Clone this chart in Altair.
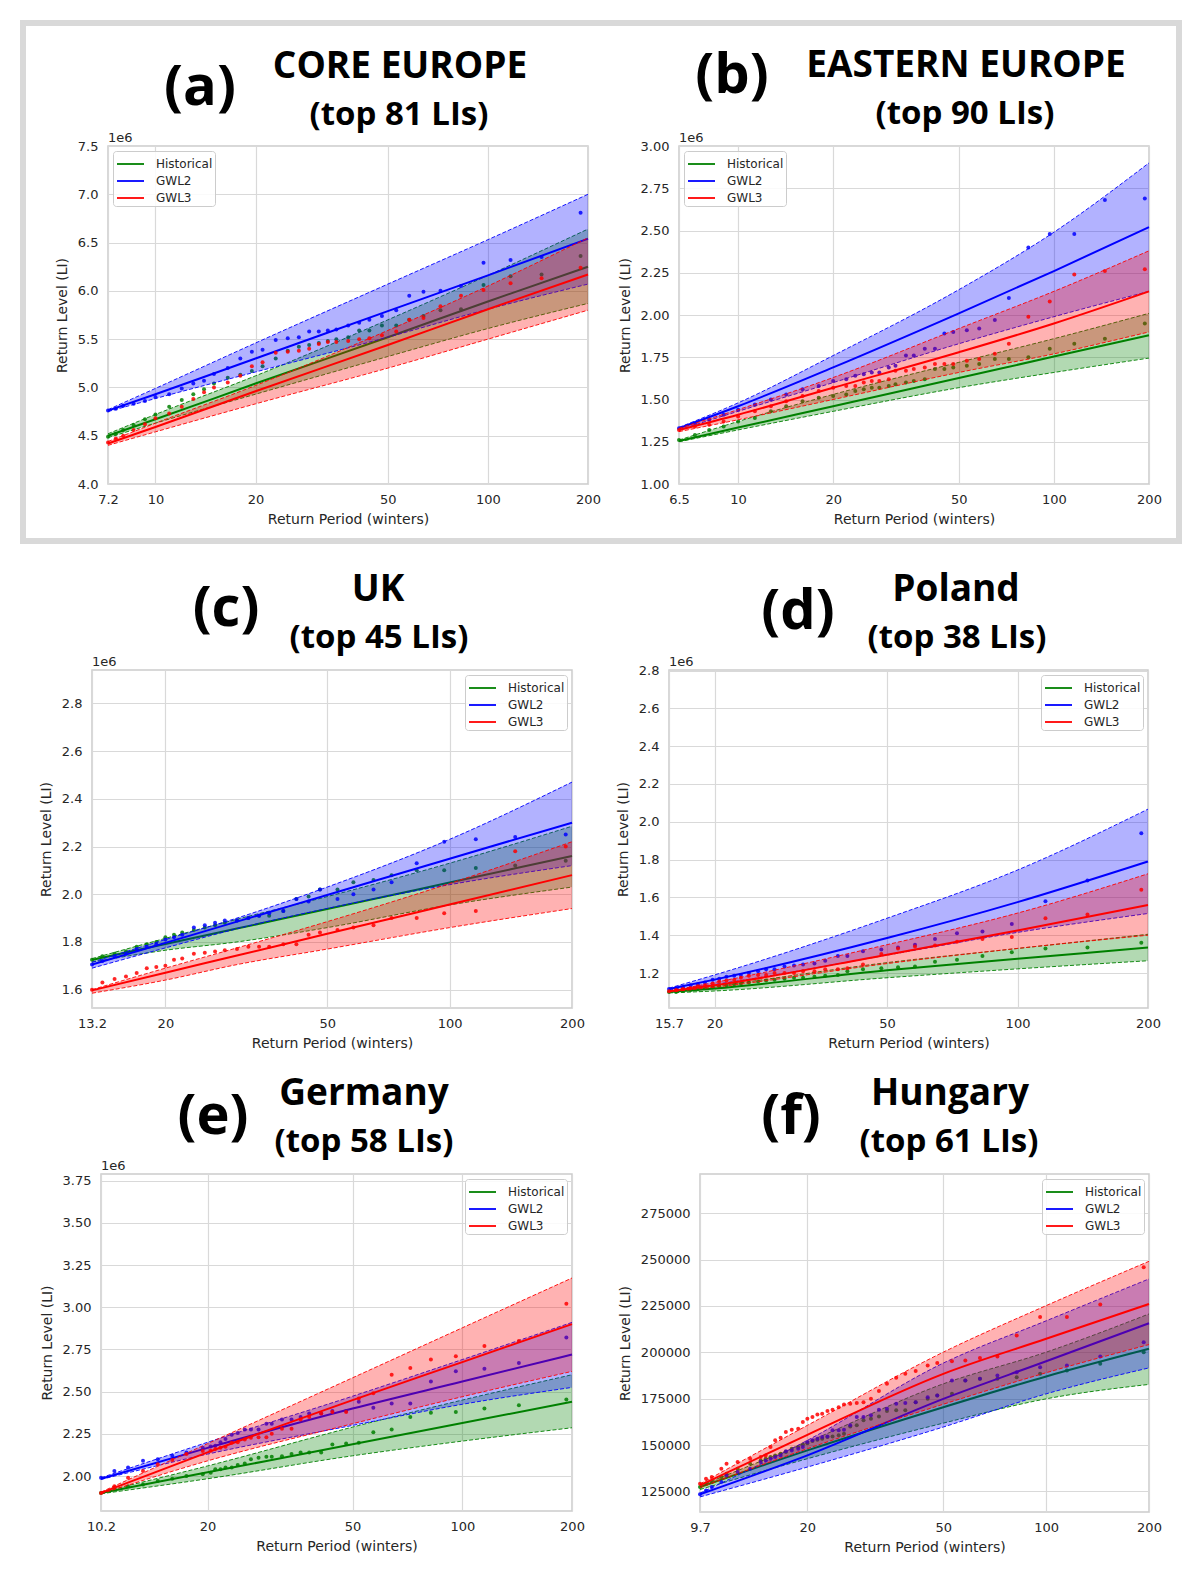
import altair as alt
import pandas as pd

SERIES = ["Historical", "GWL2", "GWL3"]
COLORS = ["#008000", "#0000ff", "#ff0000"]

# ---------------- (a) CORE EUROPE ----------------
A_T = [190, 145, 117, 97, 83, 72, 64, 58, 53, 48, 44, 41, 38, 35, 33, 31, 29, 27, 25, 23,
       21, 19.5, 18, 16.5, 15, 14, 13, 12, 11, 10, 9.3, 8.6, 8, 7.6, 7.2]
A_HIST = [6.36, 6.17, 6.15, 6.06, 5.81, 5.80, 5.74, 5.70, 5.64, 5.64, 5.59, 5.59, 5.52, 5.50, 5.48, 5.46, 5.44, 5.42, 5.38, 5.30,
          5.22, 5.17, 5.13, 5.10, 5.04, 4.98, 4.93, 4.87, 4.80, 4.72, 4.67, 4.61, 4.56, 4.52, 4.49]
A_GWL2 = [6.81, 6.35, 6.32, 6.29, 6.05, 6.00, 5.99, 5.95, 5.80, 5.74, 5.70, 5.67, 5.64, 5.60, 5.59, 5.58, 5.58, 5.52, 5.51, 5.49,
          5.39, 5.37, 5.30, 5.20, 5.14, 5.07, 5.04, 4.99, 4.93, 4.90, 4.86, 4.83, 4.81, 4.78, 4.76]
A_GWL3 = [6.24, 6.13, 6.08, 6.01, 5.95, 5.84, 5.72, 5.70, 5.58, 5.54, 5.51, 5.50, 5.48, 5.47, 5.47, 5.45, 5.40, 5.38, 5.37, 5.36,
          5.26, 5.22, 5.12, 5.05, 5.00, 4.95, 4.88, 4.80, 4.73, 4.68, 4.62, 4.56, 4.50, 4.47, 4.43]
A_KN = [7.2, 10, 20, 50, 100, 200]
A_HIST_LO = [4.48, 4.63, 4.93, 5.32, 5.61, 5.87]
A_HIST_MID = [4.50, 4.67, 5.04, 5.52, 5.89, 6.25]
A_HIST_HI = [4.52, 4.72, 5.12, 5.70, 6.16, 6.64]
A_GWL2_LO = [4.75, 4.885, 5.16, 5.52, 5.81, 6.07]
A_GWL2_MID = [4.76, 4.93, 5.30, 5.79, 6.16, 6.54]
A_GWL2_HI = [4.77, 4.99, 5.46, 6.07, 6.53, 7.00]
A_GWL3_LO = [4.40, 4.54, 4.83, 5.20, 5.50, 5.80]
A_GWL3_MID = [4.42, 4.59, 4.96, 5.44, 5.81, 6.17]
A_GWL3_HI = [4.44, 4.63, 5.02, 5.59, 6.05, 6.55]

# ---------------- (b) EASTERN EUROPE ----------------
B_T = [194, 145, 116, 97, 83, 72, 65, 58, 53, 48, 45, 42, 39, 36, 34, 31.5, 30, 28, 26.5, 25,
       23.5, 22, 20, 18, 16, 14.2, 12.7, 11.3, 10, 9, 8.1, 7.3, 6.5]
B_HIST = [1.95, 1.86, 1.83, 1.80, 1.75, 1.74, 1.74, 1.71, 1.70, 1.69, 1.68, 1.68, 1.62, 1.61, 1.60, 1.59, 1.58, 1.57, 1.57, 1.56,
          1.55, 1.53, 1.52, 1.51, 1.49, 1.46, 1.43, 1.39, 1.37, 1.34, 1.32, 1.29, 1.26]
B_GWL2 = [2.69, 2.68, 2.48, 2.48, 2.40, 2.10, 1.97, 1.92, 1.91, 1.90, 1.89, 1.80, 1.80, 1.76, 1.76, 1.70, 1.69, 1.66, 1.66, 1.65,
          1.64, 1.62, 1.61, 1.58, 1.56, 1.53, 1.50, 1.47, 1.44, 1.41, 1.38, 1.36, 1.33]
B_GWL3 = [2.27, 2.26, 2.24, 2.08, 1.99, 1.83, 1.77, 1.74, 1.73, 1.71, 1.71, 1.71, 1.69, 1.68, 1.67, 1.67, 1.62, 1.61, 1.61, 1.60,
          1.58, 1.58, 1.57, 1.55, 1.52, 1.49, 1.46, 1.43, 1.40, 1.37, 1.35, 1.34, 1.32]
B_KN = [6.5, 10, 20, 50, 100, 200]
B_HIST_LO = [1.25, 1.32, 1.43, 1.57, 1.66, 1.745]
B_HIST_MID = [1.255, 1.334, 1.46, 1.627, 1.754, 1.88]
B_HIST_HI = [1.26, 1.37, 1.53, 1.72, 1.86, 2.01]
B_GWL2_LO = [1.32, 1.43, 1.60, 1.83, 1.99, 2.14]
B_GWL2_MID = [1.33, 1.46, 1.69, 2.01, 2.26, 2.52]
B_GWL2_HI = [1.335, 1.48, 1.76, 2.15, 2.49, 2.90]
B_GWL3_LO = [1.31, 1.38, 1.50, 1.66, 1.77, 1.90]
B_GWL3_MID = [1.32, 1.41, 1.57, 1.78, 1.95, 2.14]
B_GWL3_HI = [1.33, 1.44, 1.63, 1.92, 2.14, 2.38]

# ---------------- (c) UK ----------------
C_T = [193, 145, 116, 97, 83, 72, 65, 58, 53, 48, 45, 42, 39, 36, 34, 32, 30, 28, 26.5, 25,
       23.5, 22, 21, 20, 19, 18, 17, 16, 15, 14, 13.2]
C_HIST = [2.14, 2.12, 2.11, 2.10, 2.10, 2.08, 2.06, 2.05, 2.02, 2.02, 1.99, 1.98, 1.93, 1.91, 1.91, 1.90, 1.89, 1.88, 1.87, 1.86,
          1.85, 1.84, 1.83, 1.82, 1.80, 1.79, 1.78, 1.76, 1.75, 1.74, 1.725]
C_GWL2 = [2.25, 2.24, 2.23, 2.22, 2.13, 2.05, 2.02, 2.00, 1.98, 2.02, 1.97, 1.98, 1.93, 1.92, 1.91, 1.90, 1.89, 1.89, 1.88, 1.87,
          1.86, 1.83, 1.82, 1.81, 1.79, 1.78, 1.77, 1.75, 1.74, 1.72, 1.705]
C_GWL3 = [2.20, 2.18, 1.93, 1.92, 1.90, 1.90, 1.87, 1.86, 1.85, 1.84, 1.83, 1.79, 1.79, 1.78, 1.78, 1.78, 1.77, 1.765, 1.76, 1.755,
          1.75, 1.73, 1.725, 1.70, 1.695, 1.69, 1.67, 1.655, 1.645, 1.63, 1.60]
C_KN = [13.2, 20, 30, 50, 100, 200]
C_HIST_LO = [1.715, 1.765, 1.80, 1.86, 1.955, 2.03]
C_HIST_MID = [1.725, 1.791, 1.856, 1.938, 2.049, 2.16]
C_HIST_HI = [1.73, 1.815, 1.895, 1.99, 2.13, 2.285]
C_GWL2_LO = [1.69, 1.775, 1.855, 1.94, 2.04, 2.12]
C_GWL2_MID = [1.705, 1.796, 1.885, 1.997, 2.149, 2.30]
C_GWL2_HI = [1.715, 1.81, 1.90, 2.03, 2.23, 2.47]
C_GWL3_LO = [1.585, 1.64, 1.705, 1.77, 1.86, 1.94]
C_GWL3_MID = [1.597, 1.671, 1.743, 1.834, 1.957, 2.08]
C_GWL3_HI = [1.60, 1.69, 1.775, 1.885, 2.045, 2.22]

# ---------------- (d) Poland ----------------
D_T = [193, 145, 116, 97, 83, 72.5, 64.5, 58, 53, 48.5, 44, 40.5, 38.5, 36, 34, 32, 30.5, 29, 27.5, 26.3,
       25.2, 24, 23, 22.2, 21.3, 20.5, 19.8, 19, 18.3, 17.6, 16.9, 16.3, 15.7]
D_HIST = [1.36, 1.335, 1.33, 1.31, 1.29, 1.27, 1.26, 1.235, 1.23, 1.225, 1.22, 1.21, 1.19, 1.185, 1.18, 1.175, 1.175, 1.17, 1.165, 1.16,
          1.155, 1.15, 1.145, 1.14, 1.135, 1.13, 1.125, 1.12, 1.115, 1.11, 1.105, 1.10, 1.10]
D_GWL2 = [1.94, 1.69, 1.58, 1.46, 1.42, 1.41, 1.38, 1.35, 1.335, 1.325, 1.315, 1.29, 1.29, 1.265, 1.25, 1.245, 1.24, 1.235, 1.22, 1.22,
          1.21, 1.20, 1.19, 1.185, 1.18, 1.17, 1.165, 1.15, 1.14, 1.135, 1.125, 1.12, 1.115]
D_GWL3 = [1.64, 1.51, 1.49, 1.39, 1.38, 1.365, 1.345, 1.34, 1.33, 1.30, 1.245, 1.225, 1.22, 1.22, 1.21, 1.21, 1.20, 1.20, 1.20, 1.19,
          1.19, 1.185, 1.175, 1.165, 1.16, 1.155, 1.145, 1.135, 1.13, 1.12, 1.115, 1.11, 1.103]
D_KN = [15.7, 20, 50, 100, 200]
D_HIST_LO = [1.095, 1.105, 1.175, 1.222, 1.265]
D_HIST_MID = [1.10, 1.118, 1.215, 1.275, 1.335]
D_HIST_HI = [1.10, 1.13, 1.255, 1.33, 1.405]
D_GWL2_LO = [1.11, 1.14, 1.295, 1.415, 1.515]
D_GWL2_MID = [1.115, 1.165, 1.385, 1.575, 1.79]
D_GWL2_HI = [1.12, 1.19, 1.49, 1.745, 2.067]
D_GWL3_LO = [1.10, 1.125, 1.25, 1.33, 1.40]
D_GWL3_MID = [1.103, 1.135, 1.297, 1.425, 1.56]
D_GWL3_HI = [1.105, 1.15, 1.35, 1.517, 1.725]

# ---------------- (e) Germany ----------------
E_T = [193, 143, 115, 96, 82, 72, 64, 57, 52, 48, 44, 41, 38, 36, 34, 32, 30, 29, 27.6, 26.3,
       25.3, 24.2, 23.3, 22.4, 21.7, 21, 20.4, 19.4, 17.5, 16, 14.6, 13.3, 12.1, 11.1, 10.2]
E_HIST = [2.453, 2.42, 2.40, 2.38, 2.375, 2.35, 2.276, 2.26, 2.197, 2.193, 2.187, 2.14, 2.14, 2.14, 2.13, 2.118, 2.114, 2.114, 2.108, 2.10,
          2.075, 2.065, 2.05, 2.05, 2.04, 2.04, 2.02, 2.01, 2.00, 1.984, 1.97, 1.95, 1.94, 1.93, 1.90]
E_GWL2 = [2.82, 2.67, 2.635, 2.62, 2.56, 2.43, 2.43, 2.405, 2.44, 2.385, 2.385, 2.37, 2.37, 2.35, 2.335, 2.335, 2.31, 2.31, 2.275, 2.275,
          2.275, 2.255, 2.245, 2.22, 2.20, 2.18, 2.175, 2.168, 2.14, 2.12, 2.10, 2.09, 2.05, 2.03, 1.99]
E_GWL3 = [3.02, 2.80, 2.77, 2.71, 2.69, 2.64, 2.60, 2.49, 2.46, 2.38, 2.38, 2.37, 2.35, 2.335, 2.28, 2.28, 2.25, 2.23, 2.23, 2.227,
          2.217, 2.20, 2.197, 2.173, 2.167, 2.16, 2.15, 2.148, 2.13, 2.095, 2.07, 2.03, 1.99, 1.94, 1.90]
E_KN = [10.2, 20, 50, 100, 200]
E_HIST_LO = [1.895, 1.984, 2.12, 2.207, 2.286]
E_HIST_MID = [1.90, 2.022, 2.188, 2.314, 2.44]
E_HIST_HI = [1.905, 2.06, 2.29, 2.45, 2.60]
E_GWL2_LO = [1.98, 2.13, 2.30, 2.425, 2.525]
E_GWL2_MID = [1.984, 2.167, 2.40, 2.56, 2.72]
E_GWL2_HI = [1.99, 2.20, 2.473, 2.69, 2.91]
E_GWL3_LO = [1.895, 2.09, 2.31, 2.47, 2.62]
E_GWL3_MID = [1.90, 2.14, 2.45, 2.675, 2.90]
E_GWL3_HI = [1.905, 2.192, 2.582, 2.878, 3.173]

# ---------------- (f) Hungary ----------------
F_T = [193, 144, 115, 96, 82, 72, 64, 58, 53, 48, 45, 41.5, 38.7, 36.4, 34.2, 32.4, 30.7, 29.2, 27.9, 26.7,
       25.6, 24.7, 23.7, 22.9, 22.1, 21.4, 20.7, 20, 19.4, 18.8, 18, 17.3, 16.7, 16.1, 15.6, 15.1, 14.6, 13.6, 12.5, 11.6,
       11.2, 10.5, 10.1, 9.7]
F_HIST = [200100, 193800, 190200, 188400, 186600, 185700, 185700, 184800, 177600, 176700,
          175000, 173100, 168700, 168700, 168300, 165400, 164200, 163300, 160600, 160000,
          156100, 155200, 154600, 154300, 153400, 152800, 152100, 151000, 150300, 148900,
          148000, 146200, 145300, 144400, 143500, 142600, 141700, 139900, 137200, 134500,
          132700, 130000, 129100, 127300]
F_GWL2 = [205500, 197800, 192900, 192000, 189300, 187500, 185700, 184800, 184800, 176700,
          175800, 173100, 172600, 172200, 169600, 169000, 166000, 165100, 165100, 160600,
          158200, 157900, 157900, 154600, 154300, 153400, 152500, 151600, 148900, 148000,
          147100, 146600, 144400, 143500, 142600, 141700, 140800, 137200, 135400, 133600,
          130000, 127300, 125500, 123400]
F_GWL3 = [245900, 225800, 219000, 219000, 209100, 197800, 197000, 195600, 195200, 194200,
          192900, 189900, 188400, 186300, 183000, 179100, 175000, 173100, 172600, 172200,
          171900, 170400, 169000, 168300, 166900, 166500, 165100, 164200, 162400, 158800,
          158200, 157000, 153900, 152500, 148900, 144400, 143500, 142600, 140800, 139900,
          137200, 132700, 131800, 129100]
F_KN = [9.7, 20, 50, 100, 200]
F_HIST_LO = [126000, 142600, 161800, 174900, 182700]
F_HIST_MID = [127300, 147100, 170400, 187000, 201900]
F_HIST_HI = [128000, 151600, 183000, 200100, 220700]
F_GWL2_LO = [122000, 138100, 159700, 177600, 191600]
F_GWL2_MID = [123400, 144400, 174900, 195200, 215700]
F_GWL2_HI = [124000, 152500, 194200, 217000, 239600]
F_GWL3_LO = [127000, 148000, 172000, 189000, 204200]
F_GWL3_MID = [128200, 155500, 188400, 207300, 226100]
F_GWL3_HI = [129000, 160600, 200100, 225200, 249100]

COLOR_SCALE = alt.Scale(domain=SERIES, range=COLORS)
EMPTY = alt.Data(values=[{}])
FRAME = "#d9d9d9"


def text_mark(s, x, y, size, font="Open Sans", bold=True, align="center", color="black"):
    return alt.Chart(EMPTY).mark_text(
        text=s, font=font, fontSize=size, fontWeight="bold" if bold else "normal",
        align=align, baseline="alphabetic", color=color,
    ).encode(x=alt.value(x), y=alt.value(y))


def bar(x1, x2, y1, y2):
    return alt.Chart(EMPTY).mark_rect(color=FRAME, opacity=1).encode(
        x=alt.value(x1), x2=alt.value(x2), y=alt.value(y1), y2=alt.value(y2))


def spacer(w):
    return alt.Chart(EMPTY).mark_rect(opacity=0).encode(
        x=alt.value(0), x2=alt.value(1), y=alt.value(0), y2=alt.value(1)
    ).properties(width=w, height=1, view=alt.ViewBackground(strokeWidth=0, strokeOpacity=0))


def panel(p):
    W, H = p["size"]
    L, T, R, B = p["cell"]
    Tv = p["T"]
    pts = pd.DataFrame({
        "T": Tv * 3,
        "value": p["hist"] + p["gwl2"] + p["gwl3"],
        "series": [s for s in SERIES for _ in Tv],
    })
    rows = []
    for s, (lo, mid, hi) in zip(SERIES, p["fits"]):
        for k, a, b, c in zip(p["kn"], lo, mid, hi):
            rows.append({"T": k, "series": s, "lo": a, "mid": b, "hi": c})
    fit = pd.DataFrame(rows)

    xaxis = alt.Axis(values=p["xticks"], format="~g", title="Return Period (winters)",
                     labelFlush=False, labelOverlap=False)
    xscale = alt.Scale(type="log", domain=[p["kn"][0], 200], nice=False)
    yaxis = alt.Axis(values=p["yticks"], format=p["yfmt"], title="Return Level (LI)",
                     labelOverlap=False, labelFlush=False)
    yscale = alt.Scale(domain=p["ydom"], nice=False, zero=False)
    legend = alt.Legend(title=None, orient=p["lorient"], offset=5, symbolType="M-0.9,0H1.8",
                        symbolSize=400, symbolStrokeWidth=1.8, labelFont="DejaVu Sans",
                        labelFontSize=12, labelColor="#262626", fillColor="rgba(255,255,255,0.85)",
                        strokeColor="#cccccc", cornerRadius=3, padding=2, rowPadding=-2,
                        labelOffset=19)

    X = alt.X("T:Q", scale=xscale, axis=xaxis)
    layers = [
        alt.Chart(EMPTY).mark_rect(opacity=0).encode(
            x=alt.value(-L), x2=alt.value(W + R), y=alt.value(-T), y2=alt.value(H + B))
    ]
    for s, col in zip(SERIES, COLORS):
        fb = alt.Chart(fit).transform_filter(alt.datum.series == s)
        layers.append(fb.mark_area(color=col, opacity=0.3, interpolate="monotone").encode(
            x=X, y=alt.Y("lo:Q", scale=yscale, axis=yaxis), y2="hi:Q"))
        for fld in ["lo", "hi"]:
            layers.append(fb.mark_line(color=col, strokeDash=[4, 2], strokeWidth=1, opacity=0.9,
                                       interpolate="monotone").encode(
                x=X, y=alt.Y(f"{fld}:Q", scale=yscale, axis=yaxis)))
        layers.append(fb.mark_line(strokeWidth=2, interpolate="monotone").encode(
            x=X, y=alt.Y("mid:Q", scale=yscale, axis=yaxis),
            color=alt.Color("series:N", scale=COLOR_SCALE, legend=legend)))
        layers.append(alt.Chart(pts).transform_filter(alt.datum.series == s).mark_circle(
            color=col, size=16, opacity=0.85).encode(
            x=X, y=alt.Y("value:Q", scale=yscale, axis=yaxis)))

    lx, ly = p["lab"]
    layers.append(text_mark(p["letter"], lx, ly, 56))
    t1x, t2x, t2y = p["tit"]
    layers.append(text_mark(p["name"], t1x, t2y - 47, 37))
    layers.append(text_mark(p["sub"], t2x, t2y, 33))
    if p["offset"]:
        layers.append(text_mark("1e6", 0, -4, 13, font="DejaVu Sans", bold=False,
                                align="left", color="#262626"))
    layers += p.get("frame", [])
    return alt.layer(*layers).properties(width=W, height=H)


PANELS = {
    "a": dict(letter="(a)", name="CORE EUROPE", sub="(top 81 LIs)", T=A_T, hist=A_HIST, gwl2=A_GWL2, gwl3=A_GWL3,
              kn=A_KN, fits=[(A_HIST_LO, A_HIST_MID, A_HIST_HI), (A_GWL2_LO, A_GWL2_MID, A_GWL2_HI), (A_GWL3_LO, A_GWL3_MID, A_GWL3_HI)],
              xticks=[7.2, 10, 20, 50, 100, 200], ydom=[4.0, 7.5], yticks=[4.0, 4.5, 5.0, 5.5, 6.0, 6.5, 7.0, 7.5], yfmt=".1f",
              offset=True, lorient="top-left", size=(480, 338), cell=(99, 137, 19, 65),
              lab=(92, -41), tit=(292, 291, -21),
              frame=[bar(-88, 1074, -126, -120), bar(-88, 1074, 392, 398),
                     bar(-88, -82, -126, 398), bar(1068, 1074, -126, 398)]),
    "b": dict(letter="(b)", name="EASTERN EUROPE", sub="(top 90 LIs)", T=B_T, hist=B_HIST, gwl2=B_GWL2, gwl3=B_GWL3,
              kn=B_KN, fits=[(B_HIST_LO, B_HIST_MID, B_HIST_HI), (B_GWL2_LO, B_GWL2_MID, B_GWL2_HI), (B_GWL3_LO, B_GWL3_MID, B_GWL3_HI)],
              xticks=[6.5, 10, 20, 50, 100, 200], ydom=[1.0, 3.0], yticks=[1.0, 1.25, 1.5, 1.75, 2.0, 2.25, 2.5, 2.75, 3.0], yfmt=".2f",
              offset=True, lorient="top-left", size=(470, 338), cell=(72, 137, 38, 65),
              lab=(53, -53), tit=(287, 286, -22)),
    "c": dict(letter="(c)", name="UK", sub="(top 45 LIs)", T=C_T, hist=C_HIST, gwl2=C_GWL2, gwl3=C_GWL3,
              kn=C_KN, fits=[(C_HIST_LO, C_HIST_MID, C_HIST_HI), (C_GWL2_LO, C_GWL2_MID, C_GWL2_HI), (C_GWL3_LO, C_GWL3_MID, C_GWL3_HI)],
              xticks=[13.2, 20, 50, 100, 200], ydom=[1.523, 2.94], yticks=[1.6, 1.8, 2.0, 2.2, 2.4, 2.6, 2.8], yfmt=".1f",
              offset=True, lorient="top-right", size=(480, 338), cell=(83, 119, 35, 51),
              lab=(134, -44), tit=(286, 287, -22)),
    "d": dict(letter="(d)", name="Poland", sub="(top 38 LIs)", T=D_T, hist=D_HIST, gwl2=D_GWL2, gwl3=D_GWL3,
              kn=D_KN, fits=[(D_HIST_LO, D_HIST_MID, D_HIST_HI), (D_GWL2_LO, D_GWL2_MID, D_GWL2_HI), (D_GWL3_LO, D_GWL3_MID, D_GWL3_HI)],
              xticks=[15.7, 20, 50, 100, 200], ydom=[1.015, 2.803], yticks=[1.2, 1.4, 1.6, 1.8, 2.0, 2.2, 2.4, 2.6, 2.8], yfmt=".1f",
              offset=True, lorient="top-right", size=(479, 338), cell=(62, 119, 38, 51),
              lab=(129, -41), tit=(287, 288, -22)),
    "e": dict(letter="(e)", name="Germany", sub="(top 58 LIs)", T=E_T, hist=E_HIST, gwl2=E_GWL2, gwl3=E_GWL3,
              kn=E_KN, fits=[(E_HIST_LO, E_HIST_MID, E_HIST_HI), (E_GWL2_LO, E_GWL2_MID, E_GWL2_HI), (E_GWL3_LO, E_GWL3_MID, E_GWL3_HI)],
              xticks=[10.2, 20, 50, 100, 200], ydom=[1.793, 3.789], yticks=[2.0, 2.25, 2.5, 2.75, 3.0, 3.25, 3.5, 3.75], yfmt=".2f",
              offset=True, lorient="top-right", size=(471, 337), cell=(92, 113, 35, 50),
              lab=(112, -40), tit=(263, 263, -22)),
    "f": dict(letter="(f)", name="Hungary", sub="(top 61 LIs)", T=F_T, hist=F_HIST, gwl2=F_GWL2, gwl3=F_GWL3,
              kn=F_KN, fits=[(F_HIST_LO, F_HIST_MID, F_HIST_HI), (F_GWL2_LO, F_GWL2_MID, F_GWL2_HI), (F_GWL3_LO, F_GWL3_MID, F_GWL3_HI)],
              xticks=[9.7, 20, 50, 100, 200], ydom=[113860, 296200], yticks=[125000, 150000, 175000, 200000, 225000, 250000, 275000], yfmt="d",
              offset=False, lorient="top-right", size=(449, 338), cell=(93, 113, 38, 49),
              lab=(91, -40), tit=(250, 249, -22)),
}

RES = dict(color="independent", x="independent", y="independent")


def row(p1, p2, gap, lead):
    inner = alt.hconcat(panel(PANELS[p1]), panel(PANELS[p2]), spacing=gap, bounds="flush").resolve_scale(
        **RES).resolve_legend(color="independent")
    return alt.hconcat(spacer(lead), inner, spacing=0, bounds="flush").resolve_scale(
        **RES).resolve_legend(color="independent")


chart = alt.concat(
    row("a", "b", 91, 99), row("c", "d", 97, 83), row("e", "f", 128, 92),
    columns=1, spacing=0, align="none", bounds="full",
).resolve_scale(**RES).resolve_legend(color="independent").properties(padding=0).configure_axis(
    labelFont="DejaVu Sans", labelFontSize=13, labelColor="#262626",
    titleFont="DejaVu Sans", titleFontSize=14, titleFontWeight="normal", titleColor="#262626",
    domain=False, ticks=False, gridColor="#d9d9d9", gridWidth=1.2,
).configure_axisX(labelPadding=9, titlePadding=6).configure_axisY(labelPadding=10, titlePadding=8).configure_view(
    stroke="#cccccc", strokeWidth=1.5
)

chart.save("out.html", embed_options={"renderer": "svg", "actions": False})
